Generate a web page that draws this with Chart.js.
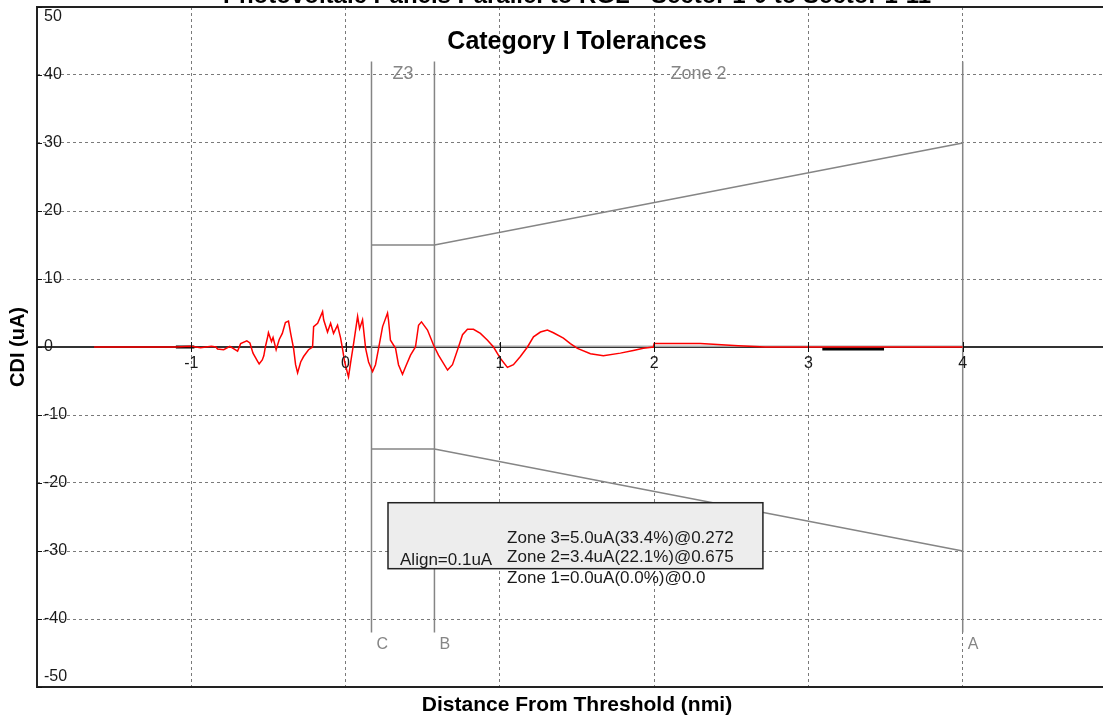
<!DOCTYPE html>
<html>
<head>
<meta charset="utf-8">
<script src="https://cdn.jsdelivr.net/npm/chart.js@4.4.1/dist/chart.umd.min.js"></script>
<style>
  body { margin: 0; background: #fff; overflow: hidden; }
  #clip { width: 1103px; height: 717px; overflow: hidden; }
  #wrap { width: 1120px; height: 717px; position: relative; }
</style>
</head>
<body>
<div id="clip"><div id="wrap"><canvas id="canvas"></canvas></div></div>
<script>
// CDI trace (nmi, uA)
const cdiX = [-1.63,-1.10,-1.00,-0.94,-0.87,-0.84,-0.83,-0.79,-0.75,-0.70,-0.68,-0.64,-0.62,-0.60,-0.57,-0.56,-0.54,-0.53,-0.52,-0.505,
  -0.50,-0.48,-0.47,-0.45,-0.43,-0.41,-0.39,-0.37,-0.356,-0.337,-0.324,-0.311,-0.291,-0.272,-0.240,-0.214,-0.207,-0.181,-0.149,-0.142,
  -0.117,-0.097,-0.078,-0.052,-0.032,-0.019,-0.006,0.013,0.019,0.032,0.052,0.078,0.091,0.110,0.130,0.149,0.175,0.194,0.214,0.240,
  0.272,0.278,0.291,0.324,0.343,0.369,0.389,0.421,0.453,0.473,0.492,0.531,0.570,0.602,0.661,0.693,0.732,0.758,0.790,0.829,
  0.874,0.920,0.959,1.004,1.049,1.088,1.133,1.179,1.218,1.263,1.308,1.347,1.412,1.457,1.503,1.587,1.671,1.781,1.865,1.930,
  1.995,2.000,2.060,2.299,2.383,2.545,2.720,4.0];
const cdiY = [0,0,0.1,-0.1,0.1,0,-0.3,-0.4,0.1,-0.6,0.5,0.9,0.6,-0.9,-2.1,-2.5,-1.9,-1.3,0,1.5,
  2.1,0.8,1.4,-0.4,1.1,2.0,3.6,3.8,2.0,-0.2,-2.6,-3.8,-2.2,-1.4,-0.4,0,3.0,3.5,5.2,4.0,
  2.2,3.5,2.0,3.2,1.3,-0.4,-2.2,-3.9,-4.4,-2.4,0.5,4.5,2.7,4.0,-0.2,-2.2,-3.6,-2.6,-0.2,3.0,
  5.0,4.0,1.0,-0.2,-2.6,-4.0,-2.9,-1.2,0,3.2,3.7,2.5,0.3,-1.2,-3.4,-2.6,0,1.8,2.6,2.6,
  2.0,1.0,0,-1.7,-3.0,-2.6,-1.4,0,1.5,2.2,2.5,2.1,1.3,0.5,-0.2,-1.0,-1.3,-0.9,-0.5,-0.2,
  0,0.5,0.5,0.5,0.4,0.2,0,0];

// zone boundaries C, B, A and the tolerance envelope
const zoneNames = ['C', 'B', 'A'];
const zoneX = [0.168, 0.576, 4.0];
const tolUpper = [15, 15, 30];
const tolLower = [-15, -15, -30];
const zoneTitles = ['Z3', 'Zone 2'];
const alignValue = 0.1;

// black marks on the axis
const markStart = [-1.10, 3.09];
const markEnd = [-0.98, 3.49];
const markY = [0, -0.3];

// ticks
const xTicks = [-1, 0, 1, 2, 3, 4];
const yTicks = [-50, -40, -30, -20, -10, 0, 10, 20, 30, 40, 50];

// summary text
const alignText = 'Align=0.1uA';
const zoneText = ['Zone 3=5.0uA(33.4%)@0.272', 'Zone 2=3.4uA(22.1%)@0.675', 'Zone 1=0.0uA(0.0%)@0.0'];

const mainTitle = 'Photovoltaic Panels Parallel to RGL - Sector 1-0 to Sector 1-11';
const subTitle = 'Category I Tolerances';
const xTitle = 'Distance From Threshold (nmi)';
const yTitle = 'CDI (uA)';

// layout bits (data coords)
const lineTop = 42, lineBottom = -42;
const box = { x1: 0.275, x2: 2.705, y1: -22.9, y2: -32.6, textX: 1.047, alignX: 0.353, rowY: [-28.1, -31.0, -34.0], alignY: -31.3 };

const FONT = '"Liberation Sans", Arial, sans-serif';
const GRAY = '#858585';

const datasets = [];
datasets.push({
  data: cdiX.map((x, i) => ({ x: x, y: cdiY[i] })),
  borderColor: '#ff0000', borderWidth: 1.5
});
markStart.forEach((s, i) => {
  datasets.push({ data: [{ x: s, y: markY[i] }, { x: markEnd[i], y: markY[i] }], borderColor: '#000', borderWidth: 3 });
});
zoneX.forEach(x => {
  datasets.push({ data: [{ x: x, y: lineTop }, { x: x, y: lineBottom }], borderColor: GRAY, borderWidth: 1.5 });
});
datasets.push({ data: zoneX.map((x, i) => ({ x: x, y: tolUpper[i] })), borderColor: GRAY, borderWidth: 1.5 });
datasets.push({ data: zoneX.map((x, i) => ({ x: x, y: tolLower[i] })), borderColor: GRAY, borderWidth: 1.5 });
datasets.push({ data: [{ x: zoneX[0], y: alignValue }, { x: zoneX[2], y: alignValue }], borderColor: '#a8a8a8', borderWidth: 1.5 });
datasets.forEach(d => { d.showLine = true; d.pointRadius = 0; d.fill = false; d.tension = 0; });

const decorations = {
  id: 'decorations',
  beforeDatasetsDraw(chart) {
    const { ctx, chartArea: a, scales: { y } } = chart;
    const y0 = y.getPixelForValue(0);
    ctx.save();
    ctx.strokeStyle = '#333';
    ctx.lineWidth = 2;
    ctx.beginPath(); ctx.moveTo(a.left, y0); ctx.lineTo(a.right, y0); ctx.stroke();
    ctx.restore();
  },
  afterDraw(chart) {
    const { ctx, chartArea: a, scales: { x, y } } = chart;
    const y0 = y.getPixelForValue(0);
    ctx.save();

    // frame
    ctx.strokeStyle = '#222';
    ctx.lineWidth = 2;
    ctx.strokeRect(a.left, a.top, a.right - a.left, a.bottom - a.top);

    // tick marks
    ctx.lineWidth = 1;
    ctx.strokeStyle = '#111';
    xTicks.forEach(v => {
      const px = Math.round(x.getPixelForValue(v)) + 0.5;
      ctx.beginPath(); ctx.moveTo(px, y0 - 5); ctx.lineTo(px, y0 + 5); ctx.stroke();
    });
    yTicks.forEach(v => {
      const py = Math.round(y.getPixelForValue(v)) + 0.5;
      ctx.beginPath(); ctx.moveTo(a.left, py); ctx.lineTo(a.left + 5, py); ctx.stroke();
    });

    // tick labels
    ctx.fillStyle = '#1a1a1a';
    ctx.font = '16px ' + FONT;
    ctx.textAlign = 'center';
    ctx.textBaseline = 'middle';
    xTicks.forEach(v => ctx.fillText(String(v), x.getPixelForValue(v), y0 + 17));
    ctx.textAlign = 'left';
    yTicks.forEach(v => {
      const py = Math.min(Math.max(y.getPixelForValue(v), a.top + 10), a.bottom - 10);
      ctx.fillText(String(v), a.left + 7, py);
    });

    // zone labels
    ctx.fillStyle = GRAY;
    ctx.font = '18px ' + FONT;
    ctx.textAlign = 'center';
    ctx.fillText(zoneTitles[0], x.getPixelForValue((zoneX[0] + zoneX[1]) / 2), y.getPixelForValue(40.2));
    ctx.fillText(zoneTitles[1], x.getPixelForValue((zoneX[1] + zoneX[2]) / 2), y.getPixelForValue(40.2));
    ctx.font = '16px ' + FONT;
    ctx.textAlign = 'left';
    zoneNames.forEach((n, i) => ctx.fillText(n, x.getPixelForValue(zoneX[i]) + 5, y.getPixelForValue(-43.8)));

    // summary box
    const bx1 = x.getPixelForValue(box.x1), bx2 = x.getPixelForValue(box.x2);
    const by1 = y.getPixelForValue(box.y1), by2 = y.getPixelForValue(box.y2);
    ctx.fillStyle = '#ededed';
    ctx.fillRect(bx1, by1, bx2 - bx1, by2 - by1);
    ctx.strokeStyle = '#222';
    ctx.lineWidth = 1.5;
    ctx.strokeRect(bx1, by1, bx2 - bx1, by2 - by1);
    ctx.fillStyle = '#1a1a1a';
    ctx.font = '17px ' + FONT;
    zoneText.forEach((t, i) => ctx.fillText(t, x.getPixelForValue(box.textX), y.getPixelForValue(box.rowY[i])));
    ctx.fillText(alignText, x.getPixelForValue(box.alignX), y.getPixelForValue(box.alignY));

    // titles
    const cx = x.getPixelForValue(1.5);
    ctx.fillStyle = '#000';
    ctx.textAlign = 'center';
    ctx.font = 'bold 24px ' + FONT;
    ctx.textBaseline = 'alphabetic';
    ctx.fillText(mainTitle, cx, 3);
    ctx.font = 'bold 25px ' + FONT;
    ctx.textBaseline = 'middle';
    ctx.fillText(subTitle, cx, 42);
    ctx.font = 'bold 21px ' + FONT;
    ctx.fillText(xTitle, cx, a.bottom + 18);
    ctx.font = 'bold 20px ' + FONT;
    ctx.translate(18, (a.top + a.bottom) / 2);
    ctx.rotate(-Math.PI / 2);
    ctx.fillText(yTitle, 0, 0);
    ctx.restore();
  }
};

const canvas = document.getElementById('canvas');
const chart = new Chart(canvas, {
  type: 'scatter',
  data: { datasets: datasets },
  options: {
    responsive: true,
    maintainAspectRatio: false,
    animation: false,
    layout: { padding: { left: 37, top: 7, right: 3, bottom: 30 } },
    plugins: { legend: { display: false }, tooltip: { enabled: false }, title: { display: false } },
    scales: {
      x: {
        type: 'linear', min: -2, max: 5,
        ticks: { display: false, stepSize: 1, includeBounds: false },
        grid: { color: '#7a7a7a', lineWidth: 1, drawTicks: false },
        border: { display: false, dash: [3, 3] }
      },
      y: {
        type: 'linear', min: -50, max: 50,
        ticks: { display: false, stepSize: 10 },
        grid: { color: '#7a7a7a', lineWidth: 1, drawTicks: false },
        border: { display: false, dash: [3, 3] }
      }
    }
  },
  plugins: [decorations]
});
</script>
</body>
</html>
